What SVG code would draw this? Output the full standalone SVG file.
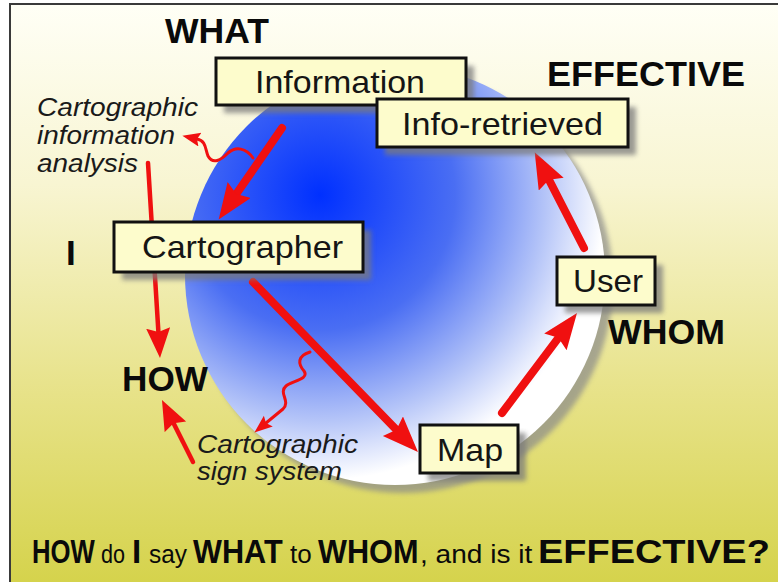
<svg xmlns="http://www.w3.org/2000/svg" width="778" height="582" viewBox="0 0 778 582">
  <defs>
    <linearGradient id="bg" x1="0" y1="0" x2="0" y2="1">
      <stop offset="0" stop-color="#fffff6"/>
      <stop offset="0.3" stop-color="#f8f5d2"/>
      <stop offset="0.65" stop-color="#e7e288"/>
      <stop offset="1" stop-color="#d3d145"/>
    </linearGradient>
    <radialGradient id="globe" gradientUnits="userSpaceOnUse" cx="320" cy="195" r="300">
      <stop offset="0" stop-color="#0030ff"/>
      <stop offset="0.45" stop-color="#4a6ef3"/>
      <stop offset="0.75" stop-color="#b4c4f8"/>
      <stop offset="0.95" stop-color="#ffffff"/>
    </radialGradient>
    <filter id="soft" x="-10%" y="-10%" width="130%" height="130%">
      <feGaussianBlur stdDeviation="2.5"/>
    </filter>
    <marker id="headBig" markerUnits="userSpaceOnUse" markerWidth="40" markerHeight="30" refX="5" refY="14" orient="auto">
      <path d="M0,0 L36,14 L0,28 L5,14 z" fill="#f01010"/>
    </marker>
    <marker id="headMid" markerUnits="userSpaceOnUse" markerWidth="32" markerHeight="26" refX="4" refY="12" orient="auto">
      <path d="M0,0 L30,12 L0,24 L4,12 z" fill="#f01010"/>
    </marker>
    <marker id="headSmall" markerUnits="userSpaceOnUse" markerWidth="20" markerHeight="16" refX="3" refY="7" orient="auto">
      <path d="M0,0 L18,7 L0,14 L3,7 z" fill="#f01010"/>
    </marker>
  </defs>
  <style>
    .box { fill: #fdfccc; stroke: #111; stroke-width: 3; }
    .shadow { fill: #7a7a7a; opacity: 0.75; filter: url(#soft); }
    .boxtext { font-family: "Liberation Sans", Arial, sans-serif; font-size: 32px; fill: #151515; }
    .big { font-family: "Liberation Sans", Arial, sans-serif; font-weight: bold; font-size: 35px; fill: #0a0a0a; }
    .note { font-family: "Liberation Sans", Arial, sans-serif; font-style: italic; font-size: 25px; fill: #1a1a1a; }
    .qb { font-family: "Liberation Sans", Arial, sans-serif; font-weight: bold; font-size: 33px; fill: #0a0a0a; }
    .qn { font-family: "Liberation Sans", Arial, sans-serif; font-size: 26px; fill: #0a0a0a; }
    .thick { fill: none; stroke: #f01010; stroke-width: 8; stroke-linecap: round; }
    .mid { fill: none; stroke: #f01010; stroke-width: 4.5; stroke-linecap: round; }
    .wave { fill: none; stroke: #f01010; stroke-width: 3; stroke-linecap: round; stroke-linejoin: round; }
  </style>

  <!-- page and frame -->
  <rect x="0" y="0" width="778" height="582" fill="#ffffff"/>
  <rect x="10" y="4" width="790" height="600" fill="url(#bg)" stroke="#3a3a3a" stroke-width="2"/>

  <!-- globe with soft shadow -->
  <circle cx="403" cy="283" r="210" fill="#8a8a8a" opacity="0.7" filter="url(#soft)"/>
  <circle cx="395" cy="275" r="210" fill="url(#globe)"/>

  <!-- connectors -->
  <g id="connectors">
    <line class="thick" x1="282" y1="128" x2="236.3" y2="194.1" marker-end="url(#headBig)"/>
    <line class="thick" x1="253" y1="282" x2="396.4" y2="429.8" marker-end="url(#headBig)"/>
    <line class="thick" x1="502" y1="413" x2="558.4" y2="337.8" marker-end="url(#headBig)"/>
    <line class="thick" x1="584" y1="248" x2="548.9" y2="179.7" marker-end="url(#headBig)"/>
    <line class="mid" x1="148" y1="163" x2="158.4" y2="332.1" marker-end="url(#headMid)"/>
    <line class="mid" x1="193" y1="462" x2="173.6" y2="423.2" marker-end="url(#headMid)"/>
    <path class="wave" d="M253,158 C246,148 236,146 228,153 C221,160 213,165 208,156 C205,148 206,141 197,139" marker-end="url(#headSmall)"/>
    <path class="wave" d="M310,352 C297,356 298,364 304,371 C310,379 292,381 286,386 C278,393 291,401 283,409 L266,423" marker-end="url(#headSmall)"/>
  </g>

  <!-- nodes -->
  <g id="information">
    <rect class="shadow" x="224" y="66" width="250" height="47"/>
    <rect class="box" x="216" y="58" width="250" height="47"/>
    <text class="boxtext" x="255" y="93" textLength="170" lengthAdjust="spacingAndGlyphs">Information</text>
  </g>
  <g id="info-retrieved">
    <rect class="shadow" x="385" y="107" width="251" height="48"/>
    <rect class="box" x="377" y="99" width="251" height="48"/>
    <text class="boxtext" x="402" y="135" textLength="201" lengthAdjust="spacingAndGlyphs">Info-retrieved</text>
  </g>
  <g id="cartographer">
    <rect class="shadow" x="122" y="230" width="249" height="50"/>
    <rect class="box" x="114" y="222" width="249" height="50"/>
    <text class="boxtext" x="142" y="258" textLength="201" lengthAdjust="spacingAndGlyphs">Cartographer</text>
  </g>
  <g id="user">
    <rect class="shadow" x="565" y="265" width="98" height="48"/>
    <rect class="box" x="557" y="257" width="98" height="48"/>
    <text class="boxtext" x="573" y="292" textLength="70" lengthAdjust="spacingAndGlyphs">User</text>
  </g>
  <g id="map">
    <rect class="shadow" x="428" y="433" width="98" height="48"/>
    <rect class="box" x="420" y="425" width="98" height="48"/>
    <text class="boxtext" x="437" y="461" textLength="66" lengthAdjust="spacingAndGlyphs">Map</text>
  </g>

  <!-- question words -->
  <g id="labels">
    <text class="big" x="165" y="43" textLength="104" lengthAdjust="spacingAndGlyphs">WHAT</text>
    <text class="big" x="547" y="86" textLength="198" lengthAdjust="spacingAndGlyphs">EFFECTIVE</text>
    <text class="big" x="66" y="265">I</text>
    <text class="big" x="122" y="391" textLength="86" lengthAdjust="spacingAndGlyphs">HOW</text>
    <text class="big" x="608" y="344" textLength="117" lengthAdjust="spacingAndGlyphs">WHOM</text>
  </g>

  <!-- process notes -->
  <g id="notes">
    <text class="note" x="37" y="116" textLength="161" lengthAdjust="spacingAndGlyphs">Cartographic</text>
    <text class="note" x="37" y="144" textLength="138" lengthAdjust="spacingAndGlyphs">information</text>
    <text class="note" x="37" y="172" textLength="101" lengthAdjust="spacingAndGlyphs">analysis</text>
    <text class="note" x="197" y="453" textLength="161" lengthAdjust="spacingAndGlyphs">Cartographic</text>
    <text class="note" x="197" y="480" textLength="145" lengthAdjust="spacingAndGlyphs">sign system</text>
  </g>

  <!-- summary question: each word horizontally scaled to its slot -->
  <g id="question">
    <text class="qb" transform="translate(32,563) scale(0.78,1)">HOW</text>
    <text class="qn" transform="translate(101,563) scale(0.83,1)">do</text>
    <text class="qb" transform="translate(132,563)">I</text>
    <text class="qn" transform="translate(149,563) scale(0.94,1)">say</text>
    <text class="qb" transform="translate(193,563) scale(0.93,1)">WHAT</text>
    <text class="qn" transform="translate(290,563) scale(1.0,1)">to</text>
    <text class="qb" transform="translate(318,563) scale(0.93,1)">WHOM</text>
    <text class="qn" transform="translate(420,563) scale(1.08,1)">, and is it</text>
    <text class="qb" transform="translate(538,563) scale(1.15,1)">EFFECTIVE?</text>
  </g>
</svg>
